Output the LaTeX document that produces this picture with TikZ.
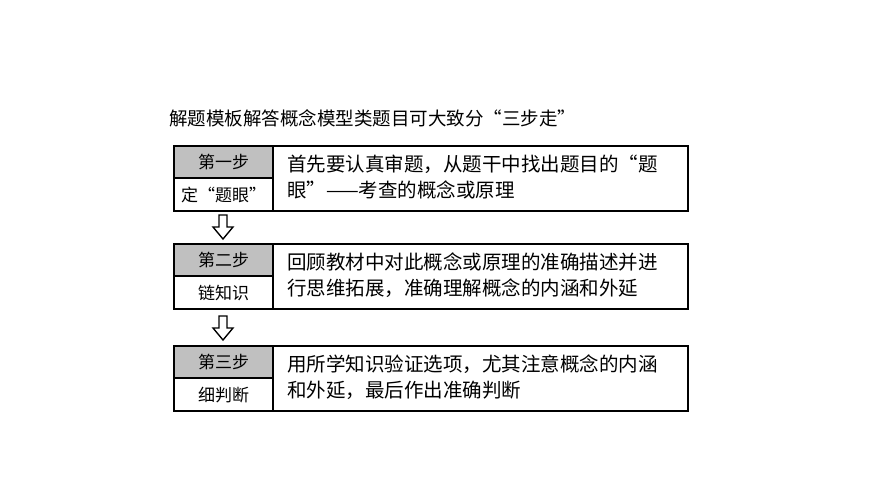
\documentclass[tikz,border=0pt]{standalone}
\usepackage{fontspec}
\newfontfamily\cjk{Noto Sans CJK SC}
\definecolor{stepgray}{RGB}{192,192,192}
\tikzstyle{frame} = [draw=black, line width=1.6pt]
\tikzstyle{steptag} = [frame, fill=stepgray]
\tikzstyle{desc} = [anchor=west, align=left, inner sep=0pt, font=\cjk\fontsize{19.5}{25.5}\selectfont]
\tikzstyle{tag} = [inner sep=0pt, font=\cjk\fontsize{17}{20}\selectfont]
\tikzstyle{hollow} = [draw=black, line width=1.4pt, fill=white]
\newcommand{\hollowdown}[2]{\draw[hollow] (#1-4,#2) -- (#1+4,#2) -- (#1+4,#2+12) -- (#1+10,#2+12) -- (#1,#2+24) -- (#1-10,#2+12) -- (#1-4,#2+12) -- cycle;}
\begin{document}
\begin{tikzpicture}[x=1pt,y=-1pt]
\useasboundingbox (0,0) rectangle (870,489);

%% TITLE
\node (title) [anchor=west, inner sep=0pt, font=\cjk\fontsize{18.5}{22}\selectfont] at (169,118) {解题模板解答概念模型类题目可大致分“三步走”};

%% STEP BOXES
\foreach \y/\tg/\nm/\tx in {146/第一步/定“题眼”/{首先要认真审题，从题干中找出题目的“题\\眼”——考查的概念或原理},
                           244/第二步/链知识/{回顾教材中对此概念或原理的准确描述并进\\行思维拓展，准确理解概念的内涵和外延},
                           346/第三步/细判断/{用所学知识验证选项，尤其注意概念的内涵\\和外延，最后作出准确判断}} {
  \draw[frame] (174,\y) rectangle (688,\y+65);
  \draw[steptag] (174,\y) rectangle (273,\y+32);
  \draw[frame] (273,\y) -- (273,\y+65);
  \node (tag\y) [tag] at (223.5,\y+16) {\tg};
  \node (name\y) [tag] at (223.5,\y+49) {\nm};
  \node (desc\y) [desc] at (287,\y+31) {\tx};
}

%% ARROWS
\hollowdown{223}{215}
\hollowdown{223}{316}
\end{tikzpicture}
\end{document}
